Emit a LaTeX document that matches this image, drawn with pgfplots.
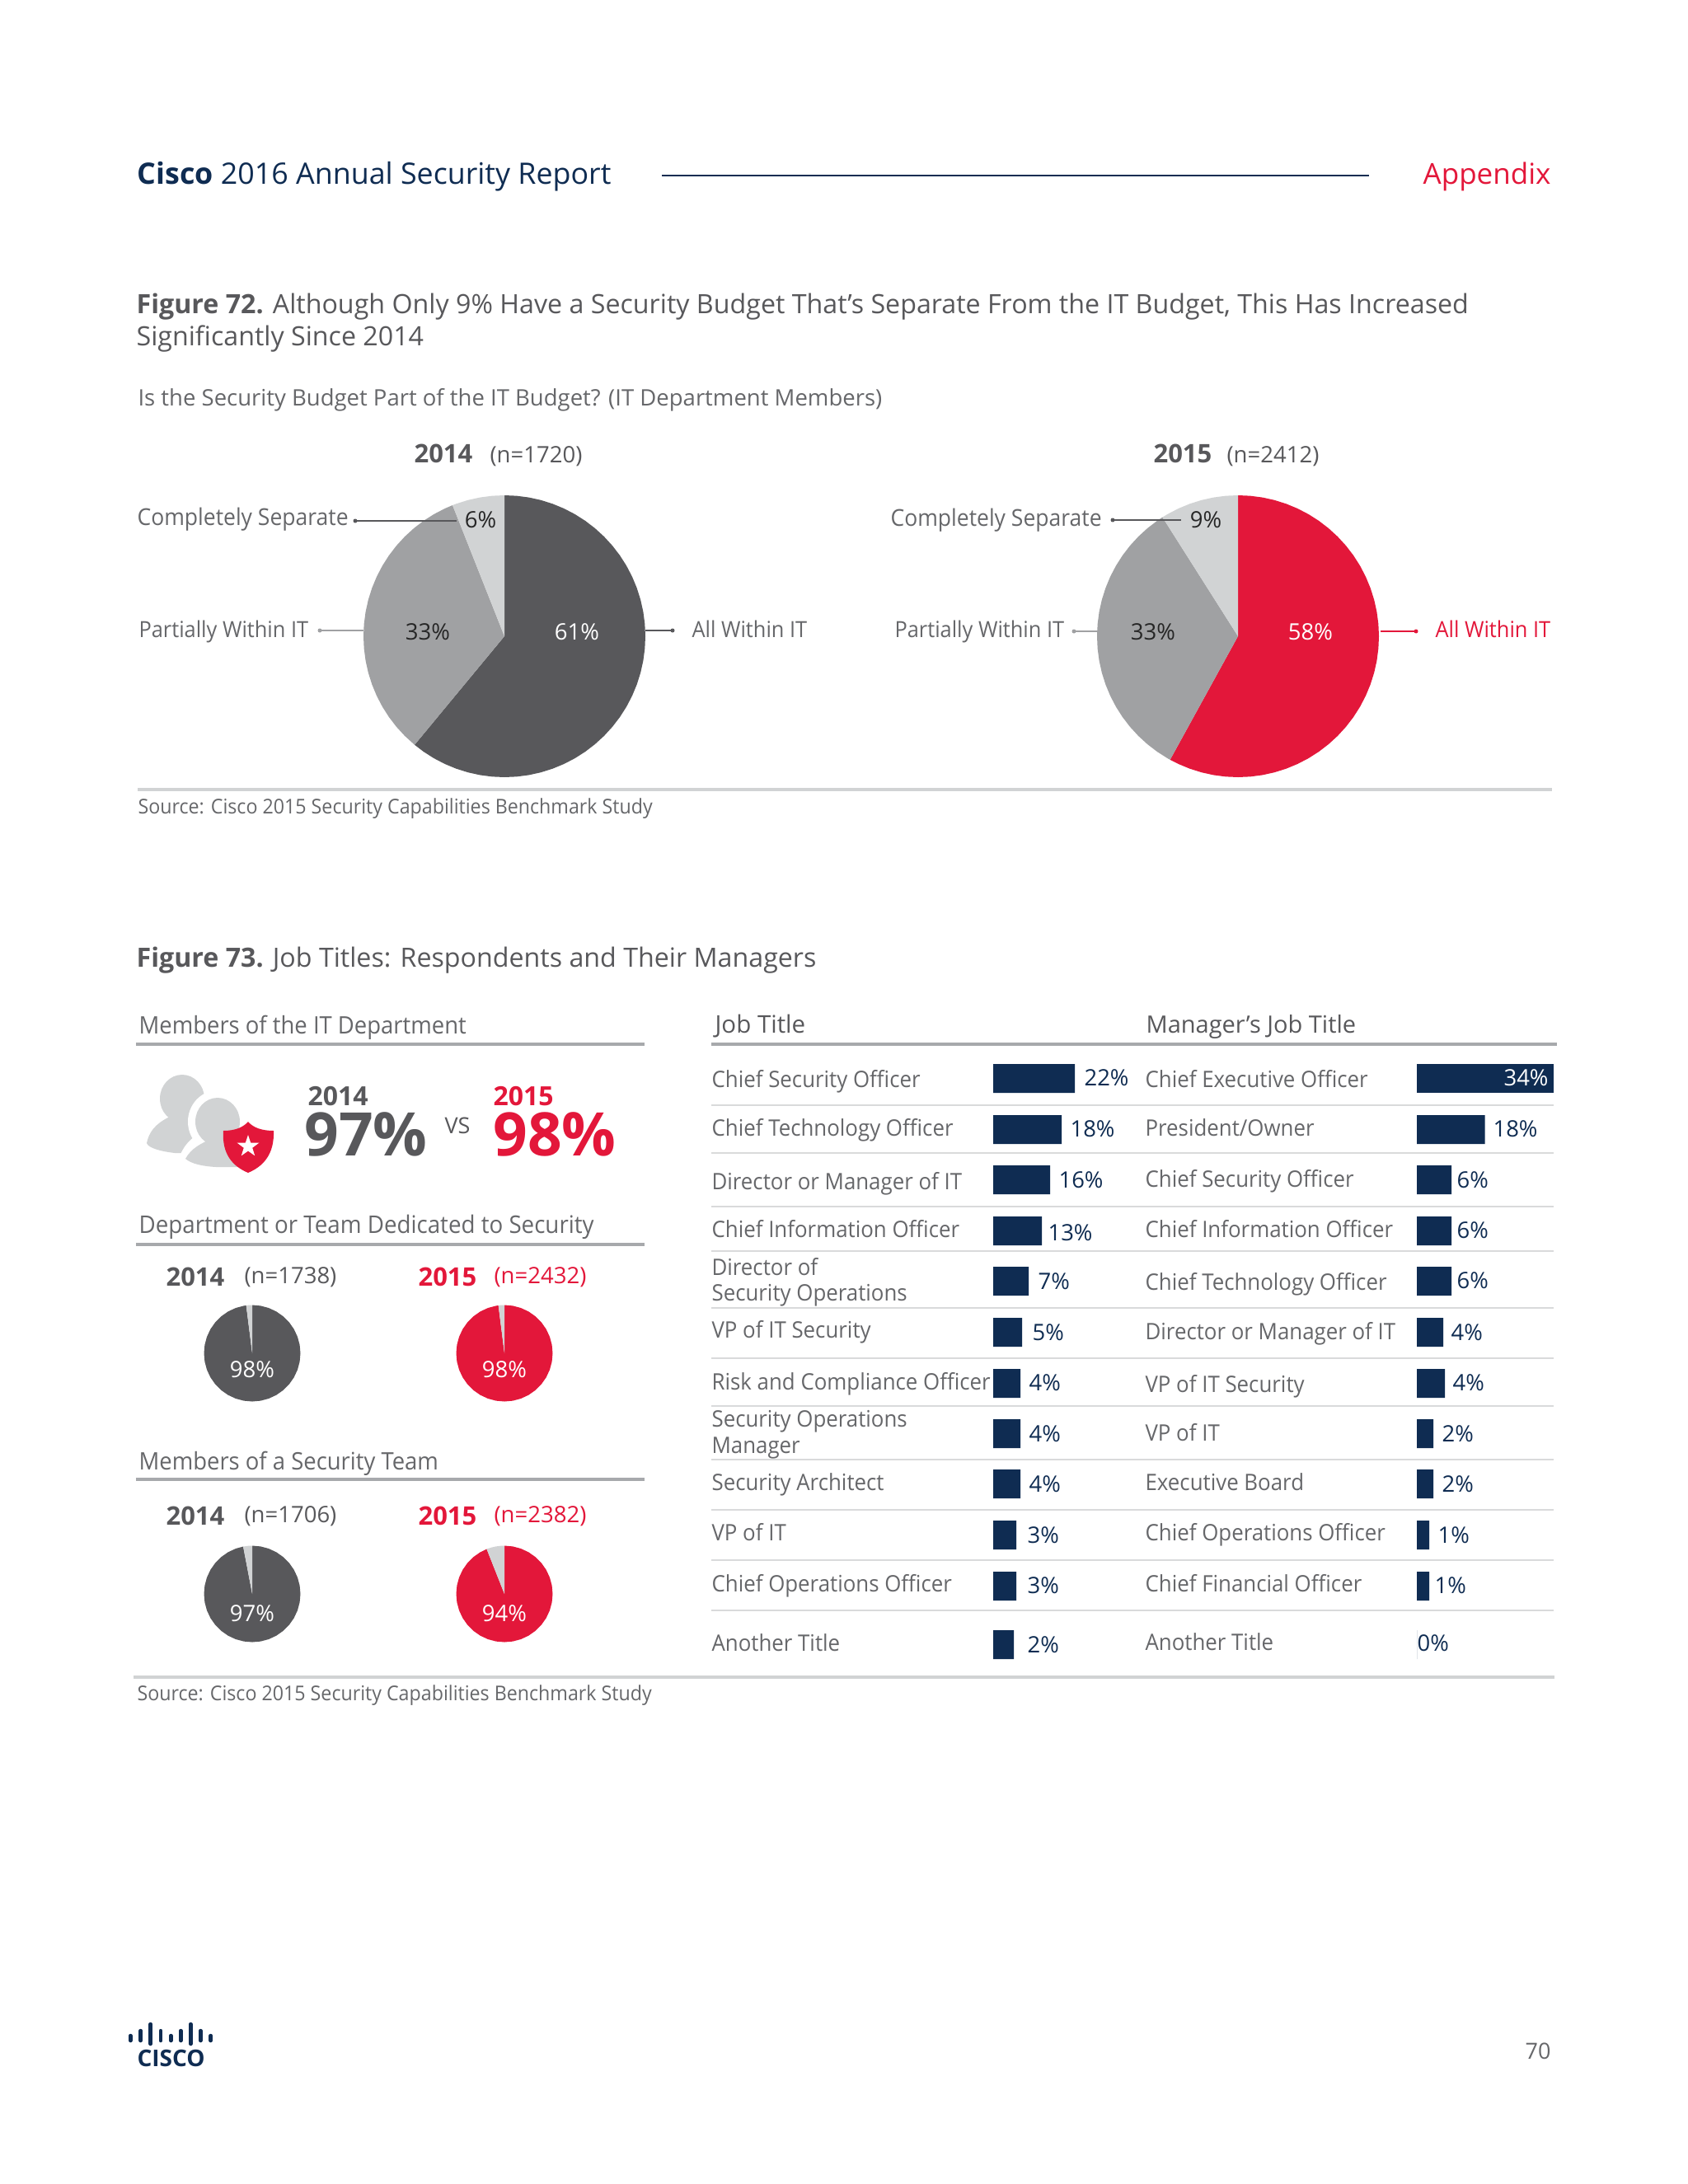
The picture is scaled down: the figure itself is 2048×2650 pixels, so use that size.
\documentclass[border=0pt]{standalone}
\usepackage{fontspec}
\usepackage{graphicx}
\usepackage{pgfplots}
\usepackage{pgfplotstable}
\pgfplotsset{compat=1.18}
\usepgfplotslibrary{polar}
\setmainfont{Open Sans}
\newfontfamily\nar{Open Sans}[FakeStretch=0.94]
\def\U{0.35pt}
\definecolor{navy}{HTML}{0F2C52}
\definecolor{cred}{HTML}{E3173A}
\definecolor{cdark}{HTML}{58585B}
\definecolor{cmid}{HTML}{A0A1A3}
\definecolor{clight}{HTML}{D1D3D4}
\definecolor{ctext}{HTML}{66676A}
\definecolor{crule}{HTML}{A7A9AC}
\definecolor{csep}{HTML}{D9DADB}
\newcommand\T[6][base west]{\node[anchor=#1,inner sep=0pt,text=#4] at (#2,#3) {\fontsize{\fpeval{#5*0.35}}{\fpeval{#5*0.42}}\selectfont #6};}
\pgfplotsset{pie/.style={hide axis,scale only axis,xmin=-1,xmax=1,ymin=-1,ymax=1,clip=false,width=2*#1*\U,height=2*#1*\U,anchor=center},
 pctlabels/.style={only marks,mark=none,point meta=explicit,/pgf/number format/assume math mode=true,nodes near coords={\pgfmathprintnumber{\pgfplotspointmeta}\%},nodes near coords align={anchor=west},every node near coord/.append style={inner sep=0pt,anchor=west,text=#1,font=\fontsize{9.6}{11}\selectfont}}}
\pgfplotstableread{
y len pct lx ly
1308.5 99 22 110 1308
1370.5 83 18 93 1370
1431.5 69 16 79 1432
1493.5 59 13 66 1496
1554.5 43 7 54 1555
1616.5 35 5 47 1617
1678.5 33 4 43 1678
1739.5 33 4 43 1740
1800.5 33 4 43 1801
1862.5 28 3 41 1863
1924.5 28 3 41 1924
1995.5 25 2 41 1996
}\jobtable
\pgfplotstableread{
y len pct lx ly
1370.5 82.5 18 92 1370
1431.5 42 6 48 1432
1493.5 42 6 48 1493
1554.5 42 6 48 1554
1616.5 32 4 41 1617
1678.5 34 4 43 1678
1739.5 20 2 30 1740
1800.5 20 2 30 1801
1862.5 15 1 25 1863
1924.5 15 1 21 1924
1995.5 0 0 0 1994
}\mgrtable
\pgfplotstableread{
y len pct lx ly
1308.5 166 34 105 1308
}\mgrtop
\begin{document}
\begin{tikzpicture}[x=\U,y=-\U]
\path[use as bounding box,fill=white] (0,0) rectangle (2048,2650);
% header
\T{166}{223}{navy}{35.8}{\textbf{Cisco} 2016 Annual Security Report}
\draw[navy,line width=1.2pt*0.7] (803,213) -- (1661,213);
\T[base east]{1882}{223}{cred}{35}{Appendix}
% figure 72
\T{165}{380}{cdark}{32.2}{\textbf{Figure 72.} Although Only 9\% Have a Security Budget That’s Separate From the IT Budget, This Has Increased}
\T{165}{419}{cdark}{32.2}{Significantly Since 2014}
\T{167}{492}{ctext}{27.5}{Is the Security Budget Part of the IT Budget? (IT Department Members)}
\T{502}{561}{cdark}{31}{\textbf{2014}}
\T{594}{561}{cdark}{27.5}{(n=1720)}
\T{1399}{561}{cdark}{31}{\textbf{2015}}
\T{1488}{561}{cdark}{27.5}{(n=2412)}
\T{166}{637}{ctext}{28.2}{\nar Completely Separate}
\T{168}{773}{ctext}{27}{\nar Partially Within IT}
\T{839}{773}{ctext}{27}{\nar All Within IT}
\T{1080}{638}{ctext}{28.2}{\nar Completely Separate}
\T{1085}{773}{ctext}{27}{\nar Partially Within IT}
\T{1741}{773}{cred}{27}{\nar All Within IT}
% pies figure 72
\begin{axis}[pie=171,at={(612*\U,-772*\U)}]
\addplot[fill=cdark,draw=none,data cs=polar] coordinates {(0,0) (90,1) (85,1) (80,1) (75,1) (70,1) (65,1) (60,1) (55,1) (50,1) (45,1) (40,1) (35,1) (30,1) (25,1) (20,1) (15,1) (10,1) (5,1) (0,1) (-5,1) (-10,1) (-15,1) (-20,1) (-25,1) (-30,1) (-35,1) (-40,1) (-45,1) (-50,1) (-55,1) (-60,1) (-65,1) (-70,1) (-75,1) (-80,1) (-85,1) (-90,1) (-95,1) (-100,1) (-105,1) (-110,1) (-115,1) (-120,1) (-125,1) (-129.6,1)};
\addplot[fill=cmid,draw=none,data cs=polar] coordinates {(0,0) (-129.6,1) (-135,1) (-140,1) (-145,1) (-150,1) (-155,1) (-160,1) (-165,1) (-170,1) (-175,1) (-180,1) (-185,1) (-190,1) (-195,1) (-200,1) (-205,1) (-210,1) (-215,1) (-220,1) (-225,1) (-230,1) (-235,1) (-240,1) (-245,1) (-248.4,1)};
\addplot[fill=clight,draw=none,data cs=polar] coordinates {(0,0) (-248.4,1) (-250,1) (-255,1) (-260,1) (-265,1) (-270,1)};
\end{axis}
\begin{axis}[pie=171,at={(1502*\U,-772*\U)}]
\addplot[fill=cred,draw=none,data cs=polar] coordinates {(0,0) (90,1) (85,1) (80,1) (75,1) (70,1) (65,1) (60,1) (55,1) (50,1) (45,1) (40,1) (35,1) (30,1) (25,1) (20,1) (15,1) (10,1) (5,1) (0,1) (-5,1) (-10,1) (-15,1) (-20,1) (-25,1) (-30,1) (-35,1) (-40,1) (-45,1) (-50,1) (-55,1) (-60,1) (-65,1) (-70,1) (-75,1) (-80,1) (-85,1) (-90,1) (-95,1) (-100,1) (-105,1) (-110,1) (-115,1) (-118.8,1)};
\addplot[fill=cmid,draw=none,data cs=polar] coordinates {(0,0) (-118.8,1) (-120,1) (-125,1) (-130,1) (-135,1) (-140,1) (-145,1) (-150,1) (-155,1) (-160,1) (-165,1) (-170,1) (-175,1) (-180,1) (-185,1) (-190,1) (-195,1) (-200,1) (-205,1) (-210,1) (-215,1) (-220,1) (-225,1) (-230,1) (-235,1) (-237.6,1)};
\addplot[fill=clight,draw=none,data cs=polar] coordinates {(0,0) (-237.6,1) (-240,1) (-245,1) (-250,1) (-255,1) (-260,1) (-265,1) (-270,1)};
\end{axis}
% leaders
\draw[cdark,line width=1.6*\U] (431,632) -- (554,632);
\fill[cdark] (431,632) circle (2.5);
\draw[cmid,line width=1.6*\U] (388,765) -- (441,765);
\fill[cmid] (388,765) circle (2.5);
\draw[cdark,line width=1.6*\U] (783,765) -- (816,765);
\fill[cdark] (816,765) circle (2.5);
\draw[cdark,line width=1.6*\U] (1350,631) -- (1433,631);
\fill[cdark] (1350,631) circle (2.5);
\draw[cmid,line width=1.6*\U] (1303,766) -- (1332,766);
\fill[cmid] (1303,766) circle (2.5);
\draw[cred,line width=1.6*\U] (1675,766) -- (1718,766);
\fill[cred] (1718,766) circle (2.5);
\T[center]{583}{631}{black!85}{27.5}{6\%}
\T[center]{519}{767}{black!85}{27.5}{33\%}
\T[center]{700}{767}{white}{27.5}{61\%}
\T[center]{1463}{631}{black!85}{27.5}{9\%}
\T[center]{1399}{767}{black!85}{27.5}{33\%}
\T[center]{1590}{767}{white}{27.5}{58\%}
\draw[clight,line width=3.5*\U] (167,958) -- (1883,958);
\T{167}{987}{ctext}{24.7}{\nar Source: Cisco 2015 Security Capabilities Benchmark Study}
% figure 73
\T{165}{1173}{cdark}{32.2}{\textbf{Figure 73.} Job Titles: Respondents and Their Managers}
\T{168}{1254}{ctext}{29.2}{\nar Members of the IT Department}
\draw[crule,line width=4.5*\U] (165,1267) -- (782,1267);
\T{168}{1496}{ctext}{29.5}{\nar Department or Team Dedicated to Security}
\draw[crule,line width=4.5*\U] (165,1510) -- (782,1510);
\T{168}{1783}{ctext}{29.2}{\nar Members of a Security Team}
\draw[crule,line width=4.5*\U] (165,1795) -- (782,1795);
% icon
\fill[clight] (221,1333) ellipse (27 and 29);
\fill[clight] (178,1387) .. controls (182,1368) and (195,1360) .. (210,1353) -- (240,1353) -- (245,1399) -- (212,1399) .. controls (195,1397) and (180,1393) .. (178,1387) -- cycle;
\fill[white] (264,1361) ellipse (36 and 38);
\fill[white] (215,1412) .. controls (222,1385) and (240,1372) .. (262,1370) -- (300,1380) -- (330,1425) -- (230,1425) -- cycle;
\fill[clight] (264,1361) ellipse (27 and 29);
\fill[clight] (225,1406) .. controls (232,1393) and (245,1387) .. (256,1382) -- (275,1382) .. controls (290,1390) and (300,1400) .. (305,1416) -- (262,1416) .. controls (245,1415) and (232,1412) .. (225,1406) -- cycle;
\fill[cred] (271,1372) .. controls (285,1372) and (295,1368) .. (301,1361) .. controls (307,1368) and (317,1372) .. (332,1372) .. controls (333,1400) and (320,1415) .. (301,1423) .. controls (282,1415) and (269,1400) .. (271,1372) -- cycle;
\fill[white] (301,1377) -- (304.2,1386.6) -- (314.3,1386.7) -- (306.2,1392.7) -- (309.2,1402.3) -- (301,1396.5) -- (292.8,1402.3) -- (295.8,1392.7) -- (287.7,1386.7) -- (297.8,1386.6) -- cycle;
\T{373}{1341}{cdark}{32}{\textbf{2014}}
\T{369}{1402}{cdark}{73}{\textbf{97\%}}
\T{539}{1375}{cdark}{27}{VS}
\T{598}{1341}{cred}{32}{\textbf{2015}}
\T{598}{1402}{cred}{73}{\textbf{98\%}}
% small headers
\T{201}{1560}{cdark}{31}{\textbf{2014}}
\T{296}{1557}{cdark}{27.5}{(n=1738)}
\T{507}{1560}{cred}{31}{\textbf{2015}}
\T{599}{1557}{cred}{27.5}{(n=2432)}
\T{201}{1850}{cdark}{31}{\textbf{2014}}
\T{296}{1847}{cdark}{27.5}{(n=1706)}
\T{507}{1850}{cred}{31}{\textbf{2015}}
\T{599}{1847}{cred}{27.5}{(n=2382)}
% small pies
\begin{axis}[pie=58.5,at={(306*\U,-1642*\U)}]
\addplot[fill=cdark,draw=none,data cs=polar] coordinates {(0,0) (90,1) (80,1) (70,1) (60,1) (50,1) (40,1) (30,1) (20,1) (10,1) (0,1) (-10,1) (-20,1) (-30,1) (-40,1) (-50,1) (-60,1) (-70,1) (-80,1) (-90,1) (-100,1) (-110,1) (-120,1) (-130,1) (-140,1) (-150,1) (-160,1) (-170,1) (-180,1) (-190,1) (-200,1) (-210,1) (-220,1) (-230,1) (-240,1) (-250,1) (-260,1) (-262.8,1)};
\addplot[fill=clight,draw=none,data cs=polar] coordinates {(0,0) (-262.8,1) (-266,1) (-270,1)};
\end{axis}
\begin{axis}[pie=58.5,at={(612*\U,-1642*\U)}]
\addplot[fill=cred,draw=none,data cs=polar] coordinates {(0,0) (90,1) (80,1) (70,1) (60,1) (50,1) (40,1) (30,1) (20,1) (10,1) (0,1) (-10,1) (-20,1) (-30,1) (-40,1) (-50,1) (-60,1) (-70,1) (-80,1) (-90,1) (-100,1) (-110,1) (-120,1) (-130,1) (-140,1) (-150,1) (-160,1) (-170,1) (-180,1) (-190,1) (-200,1) (-210,1) (-220,1) (-230,1) (-240,1) (-250,1) (-260,1) (-262.8,1)};
\addplot[fill=clight,draw=none,data cs=polar] coordinates {(0,0) (-262.8,1) (-266,1) (-270,1)};
\end{axis}
\begin{axis}[pie=58.5,at={(306*\U,-1934*\U)}]
\addplot[fill=cdark,draw=none,data cs=polar] coordinates {(0,0) (90,1) (80,1) (70,1) (60,1) (50,1) (40,1) (30,1) (20,1) (10,1) (0,1) (-10,1) (-20,1) (-30,1) (-40,1) (-50,1) (-60,1) (-70,1) (-80,1) (-90,1) (-100,1) (-110,1) (-120,1) (-130,1) (-140,1) (-150,1) (-160,1) (-170,1) (-180,1) (-190,1) (-200,1) (-210,1) (-220,1) (-230,1) (-240,1) (-250,1) (-259.2,1)};
\addplot[fill=clight,draw=none,data cs=polar] coordinates {(0,0) (-259.2,1) (-265,1) (-270,1)};
\end{axis}
\begin{axis}[pie=58.5,at={(612*\U,-1934*\U)}]
\addplot[fill=cred,draw=none,data cs=polar] coordinates {(0,0) (90,1) (80,1) (70,1) (60,1) (50,1) (40,1) (30,1) (20,1) (10,1) (0,1) (-10,1) (-20,1) (-30,1) (-40,1) (-50,1) (-60,1) (-70,1) (-80,1) (-90,1) (-100,1) (-110,1) (-120,1) (-130,1) (-140,1) (-150,1) (-160,1) (-170,1) (-180,1) (-190,1) (-200,1) (-210,1) (-220,1) (-230,1) (-240,1) (-248.4,1)};
\addplot[fill=clight,draw=none,data cs=polar] coordinates {(0,0) (-248.4,1) (-250,1) (-255,1) (-260,1) (-265,1) (-270,1)};
\end{axis}
\T[center]{306}{1662}{white}{27.5}{98\%}
\T[center]{612}{1662}{white}{27.5}{98\%}
\T[center]{306}{1958}{white}{27.5}{97\%}
\T[center]{612}{1958}{white}{27.5}{94\%}
\draw[clight,line width=3.5*\U] (162,2035) -- (1886,2035);
\T{166}{2063}{ctext}{24.7}{\nar Source: Cisco 2015 Security Capabilities Benchmark Study}
% table
\T{867}{1253}{cdark}{29.5}{Job Title}
\T{1390}{1253}{cdark}{29}{Manager’s Job Title}
\draw[crule,line width=4.5*\U] (863,1267) -- (1889,1267);
\foreach \yy in {1341,1399,1464,1518,1587,1648,1706,1771,1832,1893,1954}{\draw[csep,line width=2.2*\U] (863,\yy) -- (1885,\yy);}
\T{863}{1319}{ctext}{27.5}{\nar Chief Security Officer}
\T{863}{1378}{ctext}{27.5}{\nar Chief Technology Officer}
\T{863}{1443}{ctext}{27.5}{\nar Director or Manager of IT}
\T{863}{1501}{ctext}{27.5}{\nar Chief Information Officer}
\T{863}{1547}{ctext}{27.5}{\nar Director of}
\T{863}{1578}{ctext}{27.5}{\nar Security Operations}
\T{863}{1623}{ctext}{27.5}{\nar VP of IT Security}
\T{863}{1686}{ctext}{27.5}{\nar Risk and Compliance Officer}
\T{863}{1731}{ctext}{27.5}{\nar Security Operations}
\T{863}{1763}{ctext}{27.5}{\nar Manager}
\T{863}{1808}{ctext}{27.5}{\nar Security Architect}
\T{863}{1869}{ctext}{27.5}{\nar VP of IT}
\T{863}{1931}{ctext}{27.5}{\nar Chief Operations Officer}
\T{863}{2003}{ctext}{27.5}{\nar Another Title}
\T{1389}{1319}{ctext}{27.5}{\nar Chief Executive Officer}
\T{1389}{1378}{ctext}{27.5}{\nar President/Owner}
\T{1389}{1440}{ctext}{27.5}{\nar Chief Security Officer}
\T{1389}{1501}{ctext}{27.5}{\nar Chief Information Officer}
\T{1389}{1565}{ctext}{27.5}{\nar Chief Technology Officer}
\T{1389}{1625}{ctext}{27.5}{\nar Director or Manager of IT}
\T{1389}{1689}{ctext}{27.5}{\nar VP of IT Security}
\T{1389}{1748}{ctext}{27.5}{\nar VP of IT}
\T{1389}{1808}{ctext}{27.5}{\nar Executive Board}
\T{1389}{1869}{ctext}{27.5}{\nar Chief Operations Officer}
\T{1389}{1931}{ctext}{27.5}{\nar Chief Financial Officer}
\T{1389}{2002}{ctext}{27.5}{\nar Another Title}
% bars
\begin{axis}[hide axis,scale only axis,clip=false,at={(1205*\U,-1280*\U)},anchor=north west,width=180*\U,height=750*\U,xmin=0,xmax=180,ymin=1280,ymax=2030,y dir=reverse]
\addplot[xbar,bar width=35*\U,bar shift=0pt,fill=navy,draw=none] table[x=len,y=y] {\jobtable};
\addplot[pctlabels=navy] table[x=lx,y=ly,meta=pct] {\jobtable};
\end{axis}
\begin{axis}[hide axis,scale only axis,clip=false,at={(1719*\U,-1280*\U)},anchor=north west,width=170*\U,height=750*\U,xmin=0,xmax=170,ymin=1280,ymax=2030,y dir=reverse]
\addplot[xbar,bar width=35*\U,bar shift=0pt,fill=navy,draw=none] table[x=len,y=y] {\mgrtop};
\addplot[xbar,bar width=35*\U,bar shift=0pt,fill=navy,draw=none] table[x=len,y=y] {\mgrtable};
\addplot[pctlabels=navy] table[x=lx,y=ly,meta=pct] {\mgrtable};
\addplot[pctlabels=white] table[x=lx,y=ly,meta=pct] {\mgrtop};
\end{axis}
% footer
\foreach \xx/\ya/\yb in {158.3/2470/2476,170.7/2464/2476,182.7/2456/2480,195/2464/2476,207.3/2470/2476,219.3/2464/2476,231.3/2456/2480,243.3/2464/2476,255.7/2470/2476}{\draw[navy,line width=4.5*\U,line cap=round] (\xx,\ya) -- (\xx,\yb);}
\node[anchor=base west,inner sep=0pt,text=navy] at (166,2507) {\resizebox{28.7pt}{!}{\fontsize{9}{10}\selectfont\textbf{CISCO}}};
\T[base east]{1882}{2498}{ctext}{27}{70}
\end{tikzpicture}
\end{document}
